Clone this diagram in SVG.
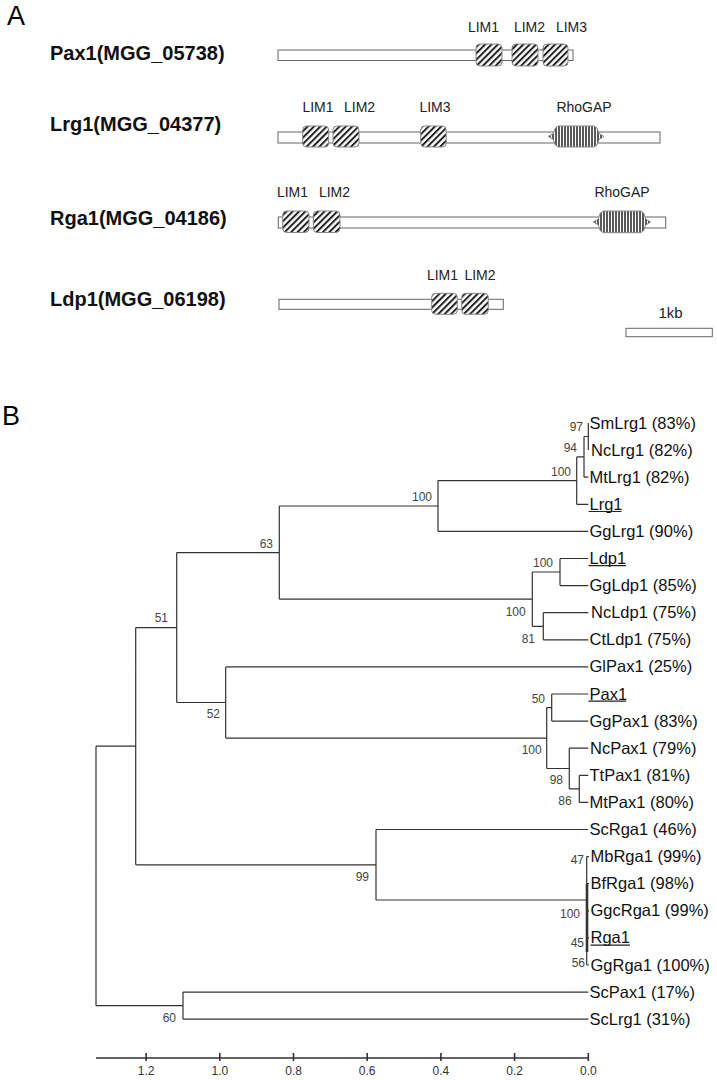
<svg xmlns="http://www.w3.org/2000/svg" width="717" height="1080" viewBox="0 0 717 1080">
<style>
.panel{font-family:"Liberation Sans",Arial,sans-serif;font-size:27px;fill:#000}
.gene{font-family:"Liberation Sans",Arial,sans-serif;font-size:20px;font-weight:bold;fill:#111}
.dom{font-family:"Liberation Sans",Arial,sans-serif;font-size:14px;fill:#222;text-anchor:middle}
.bar{fill:#fff;stroke:#666;stroke-width:1}
.lim{fill:url(#hatch);stroke:#888;stroke-width:1}
.gap{fill:url(#vstripe);stroke:#888;stroke-width:1}
.leaf{font-family:"Liberation Sans",Arial,sans-serif;font-size:16.5px;fill:#111}
.bs{font-family:"Liberation Sans",Arial,sans-serif;font-size:12px;fill:#444;text-anchor:end}
.tick{font-family:"Liberation Sans",Arial,sans-serif;font-size:12px;fill:#333;text-anchor:middle}
.tree{fill:none;stroke:#333;stroke-width:1.2}
.ul{stroke:#222;stroke-width:1.2}
</style>
<defs>
<pattern id="hatch" patternUnits="userSpaceOnUse" width="4.5" height="4.5" patternTransform="rotate(45)">
<rect width="4.5" height="4.5" fill="#fff"/>
<line x1="1" y1="0" x2="1" y2="4.5" stroke="#222" stroke-width="2"/>
</pattern>
<pattern id="vstripe" patternUnits="userSpaceOnUse" width="3" height="3">
<rect width="3" height="3" fill="#fff"/>
<line x1="1" y1="0" x2="1" y2="3" stroke="#222" stroke-width="1.5"/>
</pattern>
</defs>
<rect width="717" height="1080" fill="#fff"/>

<g id="panel-A">
<text class="panel" x="7" y="25">A</text>
</g>

<g id="row-pax1">
<text class="gene" x="50" y="60">Pax1(MGG_05738)</text>
<rect class="bar" x="278" y="50" width="295" height="10.5"/>
<rect class="lim" x="476" y="44" width="26" height="22" rx="4"/>
<rect class="lim" x="512" y="44" width="26" height="22" rx="4"/>
<rect class="lim" x="543" y="44" width="25" height="22" rx="4"/>
<text class="dom" x="483.5" y="31.5">LIM1</text>
<text class="dom" x="529.5" y="31.5">LIM2</text>
<text class="dom" x="571.5" y="31.5">LIM3</text>
</g>

<g id="row-lrg1">
<text class="gene" x="50" y="131">Lrg1(MGG_04377)</text>
<rect class="bar" x="278" y="132" width="382" height="11"/>
<rect class="lim" x="302.7" y="126" width="26" height="21" rx="4"/>
<rect class="lim" x="333" y="126" width="26" height="21" rx="4"/>
<rect class="lim" x="420.7" y="126" width="25.5" height="21" rx="4"/>
<polygon class="gap" points="548.3,136.5 553.3,133.5 555.3,128 558.3,126 594,126 597,128 599,133.5 604,136.5 599,139.5 597,145 594,147 558.3,147 555.3,145 553.3,139.5"/>
<text class="dom" x="318" y="112">LIM1</text>
<text class="dom" x="359.6" y="112">LIM2</text>
<text class="dom" x="435" y="112">LIM3</text>
<text class="dom" x="584" y="112">RhoGAP</text>
</g>

<g id="row-rga1">
<text class="gene" x="50" y="224.5">Rga1(MGG_04186)</text>
<rect class="bar" x="278.3" y="217" width="387.4" height="11"/>
<rect class="lim" x="282.7" y="211" width="26.3" height="21.5" rx="4"/>
<rect class="lim" x="313.3" y="211" width="26.7" height="21.5" rx="4"/>
<polygon class="gap" points="593.3,222 598.3,219 600.3,213 603.3,211 640.7,211 643.7,213 645.7,219 650.7,222 645.7,225 643.7,230.7 640.7,232.7 603.3,232.7 600.3,230.7 598.3,225"/>
<text class="dom" x="292.5" y="197.3">LIM1</text>
<text class="dom" x="334.5" y="197.3">LIM2</text>
<text class="dom" x="622" y="197.3">RhoGAP</text>
</g>

<g id="row-ldp1">
<text class="gene" x="50" y="306">Ldp1(MGG_06198)</text>
<rect class="bar" x="279" y="299.3" width="224.3" height="10"/>
<rect class="lim" x="431.7" y="293.3" width="25.6" height="21" rx="4"/>
<rect class="lim" x="461.7" y="293.3" width="26.6" height="21" rx="4"/>
<text class="dom" x="442.5" y="280">LIM1</text>
<text class="dom" x="480" y="280">LIM2</text>
</g>

<g id="scale-1kb">
<text class="dom" x="670.5" y="318" style="font-size:15px">1kb</text>
<rect class="bar" x="626" y="328.3" width="86.3" height="8.4"/>
</g>

<g id="panel-B">
<text class="panel" x="2" y="425">B</text>
</g>

<g id="connectors">
<path class="tree" d="M96,746.2 V1005.7
M96,746.2 H135.7 M135.7,627.6 V864.8
M135.7,627.6 H176.7 M176.7,552.6 V702.5
M176.7,552.6 H279.3 M279.3,506 V599.2
M279.3,506 H438 M438,480.6 V531.4 M438,531.4 H588.3
M438,480.6 H576.7 M576.7,456.9 V504.3 M576.7,504.3 H588.3
M576.7,456.9 H584 M584,436.5 V477.2 M584,477.2 H588.3
M584,436.5 H588.3 M588.3,423 V450.1
M279.3,599.2 H532.3 M532.3,572 V626.3
M532.3,572 H560 M560,558.5 V585.6 M560,558.5 H588.3 M560,585.6 H588.3
M532.3,626.3 H543.3 M543.3,612.7 V639.8 M543.3,612.7 H588.3 M543.3,639.8 H588.3
M176.7,702.5 H225.7 M225.7,666.9 V738.1 M225.7,666.9 H588.3
M225.7,738.1 H546.7 M546.7,707.6 V768.5
M546.7,707.6 H551.7 M551.7,694 V721.1 M551.7,694 H588.3 M551.7,721.1 H588.3
M546.7,768.5 H569.3 M569.3,748.2 V788.9 M569.3,748.2 H588.3
M569.3,788.9 H579.3 M579.3,775.3 V802.4 M579.3,775.3 H588.3 M579.3,802.4 H588.3
M135.7,864.8 H376 M376,829.5 V900 M376,829.5 H588.3
M376,900 H586.7 M586.7,856.6 V965
M586.7,856.6 H589 M586.7,883.7 H589 M586.7,910.8 H589 M586.7,937.9 H589 M586.7,965 H589
M96,1005.7 H183 M183,992.1 V1019.2 M183,992.1 H588.3 M183,1019.2 H588.3"/>
<path class="tree" d="M587,884 V952" style="stroke-width:2.6"/>
</g>

<g id="leaf-labels">
<g id="leaf-SmLrg1"><text class="leaf" x="589.5" y="428.5">SmLrg1 (83%)</text></g>
<g id="leaf-NcLrg1"><text class="leaf" x="591" y="455.6">NcLrg1 (82%)</text></g>
<g id="leaf-MtLrg1"><text class="leaf" x="589.5" y="482.7">MtLrg1 (82%)</text></g>
<g id="leaf-Lrg1"><text class="leaf" x="589.5" y="509.8">Lrg1</text><line class="ul" x1="588.5" y1="511.5" x2="621.5" y2="511.5"/></g>
<g id="leaf-GgLrg1"><text class="leaf" x="589.5" y="536.9">GgLrg1 (90%)</text></g>
<g id="leaf-Ldp1"><text class="leaf" x="589.5" y="564">Ldp1</text><line class="ul" x1="588.5" y1="565.7" x2="626" y2="565.7"/></g>
<g id="leaf-GgLdp1"><text class="leaf" x="589.5" y="591.1">GgLdp1 (85%)</text></g>
<g id="leaf-NcLdp1"><text class="leaf" x="591" y="618.2">NcLdp1 (75%)</text></g>
<g id="leaf-CtLdp1"><text class="leaf" x="589.5" y="645.3">CtLdp1 (75%)</text></g>
<g id="leaf-GlPax1"><text class="leaf" x="589.5" y="672.4">GlPax1 (25%)</text></g>
<g id="leaf-Pax1"><text class="leaf" x="589.5" y="699.5">Pax1</text><line class="ul" x1="588.5" y1="701.2" x2="626" y2="701.2"/></g>
<g id="leaf-GgPax1"><text class="leaf" x="589.5" y="726.6">GgPax1 (83%)</text></g>
<g id="leaf-NcPax1"><text class="leaf" x="590" y="753.7">NcPax1 (79%)</text></g>
<g id="leaf-TtPax1"><text class="leaf" x="589.5" y="780.8">TtPax1 (81%)</text></g>
<g id="leaf-MtPax1"><text class="leaf" x="589.5" y="807.9">MtPax1 (80%)</text></g>
<g id="leaf-ScRga1"><text class="leaf" x="589.5" y="835">ScRga1 (46%)</text></g>
<g id="leaf-MbRga1"><text class="leaf" x="590.5" y="862.1">MbRga1 (99%)</text></g>
<g id="leaf-BfRga1"><text class="leaf" x="590.5" y="889.2">BfRga1 (98%)</text></g>
<g id="leaf-GgcRga1"><text class="leaf" x="590.5" y="916.3">GgcRga1 (99%)</text></g>
<g id="leaf-Rga1"><text class="leaf" x="590.5" y="943.4">Rga1</text><line class="ul" x1="590.5" y1="945.1" x2="630" y2="945.1"/></g>
<g id="leaf-GgRga1"><text class="leaf" x="590.5" y="970.5">GgRga1 (100%)</text></g>
<g id="leaf-ScPax1"><text class="leaf" x="589.5" y="997.6">ScPax1 (17%)</text></g>
<g id="leaf-ScLrg1"><text class="leaf" x="589.5" y="1024.7">ScLrg1 (31%)</text></g>
</g>

<g id="bootstrap">
<text class="bs" x="583" y="431">97</text>
<text class="bs" x="577" y="452">94</text>
<text class="bs" x="571" y="476">100</text>
<text class="bs" x="432" y="501">100</text>
<text class="bs" x="273" y="548">63</text>
<text class="bs" x="168" y="622">51</text>
<text class="bs" x="220" y="718">52</text>
<text class="bs" x="553" y="567">100</text>
<text class="bs" x="525.7" y="616">100</text>
<text class="bs" x="535" y="643">81</text>
<text class="bs" x="545" y="703">50</text>
<text class="bs" x="541.7" y="754">100</text>
<text class="bs" x="563" y="784">98</text>
<text class="bs" x="571.7" y="805">86</text>
<text class="bs" x="369" y="881">99</text>
<text class="bs" x="584" y="864">47</text>
<text class="bs" x="580" y="918">100</text>
<text class="bs" x="584" y="947">45</text>
<text class="bs" x="585" y="967">56</text>
<text class="bs" x="176" y="1022">60</text>
</g>

<g id="axis">
<path class="tree" style="stroke-width:1.6" d="M96,1058 H588.3 M588.3,1053 V1061 M514.6,1053 V1061 M440.9,1053 V1061 M367.2,1053 V1061 M293.5,1053 V1061 M219.8,1053 V1061 M146.1,1053 V1061"/>
<text class="tick" x="588.3" y="1075">0.0</text>
<text class="tick" x="514.6" y="1075">0.2</text>
<text class="tick" x="440.9" y="1075">0.4</text>
<text class="tick" x="367.2" y="1075">0.6</text>
<text class="tick" x="293.5" y="1075">0.8</text>
<text class="tick" x="219.8" y="1075">1.0</text>
<text class="tick" x="146.1" y="1075">1.2</text>
</g>
</svg>
